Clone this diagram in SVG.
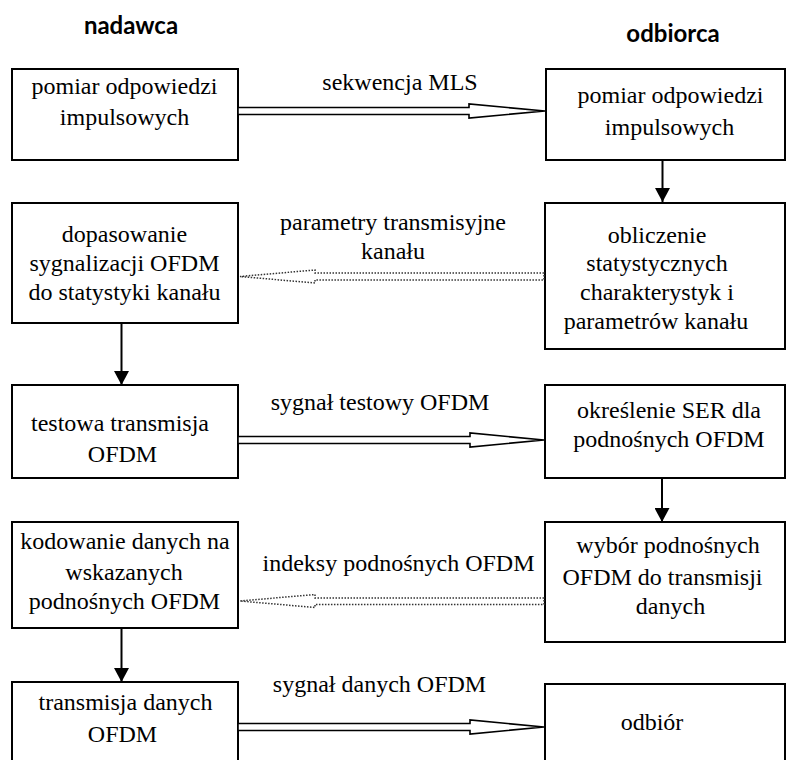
<svg xmlns="http://www.w3.org/2000/svg" width="786" height="760" viewBox="0 0 786 760">
  <style>
    .box { fill: #fff; stroke: #000; stroke-width: 2; }
    .t { font-family: "Liberation Serif", "Times New Roman", serif; font-size: 24px; fill: #000; text-anchor: middle; }
    .h { font-family: Lato, "Open Sans", sans-serif; font-weight: bold; font-size: 24px; fill: #000; text-anchor: middle; }
    .flow { fill: #fff; stroke: #000; stroke-width: 1.6; stroke-linejoin: miter; }
    .back { fill: #fff; stroke: #333; stroke-width: 1.5; stroke-dasharray: 1.5 1.5; }
    .step { stroke: #000; stroke-width: 2; fill: none; }
  </style>
  <defs>
    <!-- solid triangular head for the step-to-step arrows -->
    <marker id="ah" markerWidth="14" markerHeight="15" refX="14" refY="7.5" orient="auto" markerUnits="userSpaceOnUse" viewBox="0 0 14 15">
      <path d="M0,0 L14,7.5 L0,15 Z" fill="#000"/>
    </marker>
  </defs>

  <rect width="786" height="760" fill="#fff"/>

  <text class="h" x="131" y="34">nadawca</text>
  <text class="h" x="673" y="42">odbiorca</text>

  <!-- sender column -->
  <g id="n-pomiar-tx">
    <rect class="box" x="12" y="69" width="226" height="91"/>
    <text class="t" x="124.5" y="94">pomiar odpowiedzi</text>
    <text class="t" x="124.5" y="125">impulsowych</text>
  </g>
  <g id="n-dopasowanie">
    <rect class="box" x="12" y="203" width="226" height="120"/>
    <text class="t" x="124.5" y="242">dopasowanie</text>
    <text class="t" x="124.5" y="271">sygnalizacji OFDM</text>
    <text class="t" x="124.5" y="300">do statystyki kanału</text>
  </g>
  <g id="n-test-tx">
    <rect class="box" x="12" y="385" width="226" height="93"/>
    <text class="t" x="120" y="431">testowa transmisja</text>
    <text class="t" x="122.5" y="462">OFDM</text>
  </g>
  <g id="n-kodowanie">
    <rect class="box" x="12" y="522" width="226" height="106"/>
    <text class="t" x="125" y="549">kodowanie danych na</text>
    <text class="t" x="124" y="580">wskazanych</text>
    <text class="t" x="124.5" y="609">podnośnych OFDM</text>
  </g>
  <g id="n-data-tx">
    <rect class="box" x="12" y="682" width="226" height="90"/>
    <text class="t" x="125.5" y="710">transmisja danych</text>
    <text class="t" x="122.5" y="742">OFDM</text>
  </g>

  <!-- receiver column -->
  <g id="n-pomiar-rx">
    <rect class="box" x="546" y="69" width="239" height="91"/>
    <text class="t" x="670.5" y="103">pomiar odpowiedzi</text>
    <text class="t" x="669.5" y="135">impulsowych</text>
  </g>
  <g id="n-obliczenie">
    <rect class="box" x="545" y="203" width="240" height="146"/>
    <text class="t" x="657" y="243">obliczenie</text>
    <text class="t" x="657" y="271">statystycznych</text>
    <text class="t" x="657" y="300">charakterystyk i</text>
    <text class="t" x="656" y="329">parametrów kanału</text>
  </g>
  <g id="n-ser">
    <rect class="box" x="545" y="385" width="240" height="93"/>
    <text class="t" x="669" y="418">określenie SER dla</text>
    <text class="t" x="669" y="447">podnośnych OFDM</text>
  </g>
  <g id="n-wybor">
    <rect class="box" x="545" y="522" width="240" height="120"/>
    <text class="t" x="668" y="553">wybór podnośnych</text>
    <text class="t" x="662.5" y="585">OFDM do transmisji</text>
    <text class="t" x="670.5" y="614">danych</text>
  </g>
  <g id="n-odbior">
    <rect class="box" x="545" y="684" width="240" height="90"/>
    <text class="t" x="652" y="730">odbiór</text>
  </g>

  <!-- connectors -->
  <g id="connectors">
    <!-- forward transmissions (hollow double-line arrows) -->
    <polygon class="flow" points="238,107.5 469,107.5 469,104 545,111 469,118 469,114.5 238,114.5"/>
    <polygon class="flow" points="238,436.5 470,436.5 470,433 544,440 470,447 470,443.5 238,443.5"/>
    <polygon class="flow" points="238,723.5 470,723.5 470,720 544,727 470,734 470,730.5 238,730.5"/>

    <!-- feedback (dotted hollow arrows) -->
    <polygon class="back" points="544,273 315,273 315,270 240,276.5 315,283 315,280 544,280"/>
    <polygon class="back" points="544,598 315,598 315,594.5 240,601 315,607.5 315,604.5 544,604.5"/>

    <!-- sequential steps -->
    <line class="step" x1="662.5" y1="160" x2="662.5" y2="202" marker-end="url(#ah)"/>
    <line class="step" x1="662" y1="478" x2="662" y2="522" marker-end="url(#ah)"/>
    <line class="step" x1="121.5" y1="323" x2="121.5" y2="385" marker-end="url(#ah)"/>
    <line class="step" x1="121.5" y1="628" x2="121.5" y2="682" marker-end="url(#ah)"/>

    <text class="t" x="400" y="90">sekwencja MLS</text>
    <text class="t" x="393" y="230">parametry transmisyjne</text>
    <text class="t" x="393" y="259">kanału</text>
    <text class="t" x="380" y="410">sygnał testowy OFDM</text>
    <text class="t" x="398.5" y="571">indeksy podnośnych OFDM</text>
    <text class="t" x="379.5" y="692">sygnał danych OFDM</text>
  </g>
</svg>
